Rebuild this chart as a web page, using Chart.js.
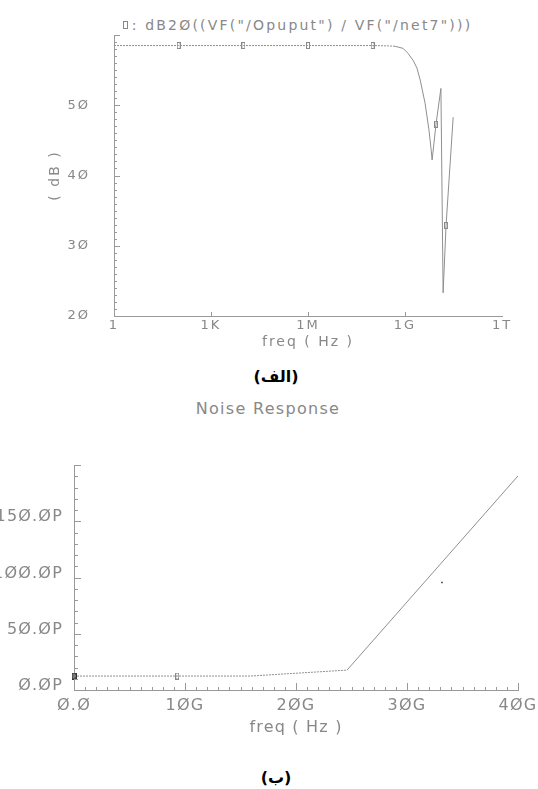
<!DOCTYPE html>
<html><head><meta charset="utf-8">
<script src="https://cdn.jsdelivr.net/npm/chart.js@4.4.0/dist/chart.umd.min.js"></script>
<style>
html,body{margin:0;padding:0;background:#fff;width:538px;height:789px;overflow:hidden;position:relative;font-family:"DejaVu Sans",sans-serif;}
.t{position:absolute;white-space:nowrap;text-align:center;}
.mk{display:inline-block;width:3px;height:6px;border:1px solid #888;margin-right:4px;vertical-align:1px;}
canvas{position:absolute;left:0;}
</style></head><body>
<div class="t" style="left:0;width:595px;top:17px;font-size:14px;line-height:16px;letter-spacing:2.2px;color:#888"><span class="mk"></span>: dB2Ø((VF("/Opuput") / VF("/net7")))</div>
<canvas id="c1" width="538" height="360" style="top:0;width:538px;height:360px"></canvas>
<div class="t" dir="rtl" style="left:0;width:552px;top:367px;font-size:16px;line-height:20px;font-weight:bold;color:#000">(الف)</div>
<div class="t" style="left:0;width:536px;top:400px;font-size:16px;line-height:18px;letter-spacing:1.3px;color:#888">Noise Response</div>
<canvas id="c2" width="538" height="320" style="top:420px;width:538px;height:320px"></canvas>
<div class="t" dir="rtl" style="left:0;width:552px;top:768px;font-size:16px;line-height:20px;font-weight:bold;color:#000">(ب)</div>
<script>
// ---------- data: top chart (gain, dB vs frequency) ----------
const gainFreqHz = [1, 1e2, 1e4, 1e6, 1e8, 3e8, 4.9e8, 8.7e8, 1.23e9, 1.78e9, 2.34e9, 2.95e9, 4.17e9, 5.5e9, 6.46e9, 6.9e9, 9.1e9, 1.29e10, 1.51e10, 1.86e10, 3.09e10];
const gainDb     = [58.5, 58.5, 58.5, 58.5, 58.5, 58.45, 58.4, 58.1, 57.4, 56.4, 55.3, 53.6, 50.3, 46.5, 43.6, 42.2, 47.3, 52.4, 23.3, 32.9, 48.3];
const gainMarkFreqHz = [1e2, 1e4, 1e6, 1e8, 9.1e9, 1.86e10];
const gainMarkDb     = [58.5, 58.5, 58.5, 58.5, 47.3, 32.9];
const gainTickHz     = [1, 1e3, 1e6, 1e9, 1e12];
const gainTickLabels = ['1', '1K', '1M', '1G', '1T'];

// ---------- data: bottom chart (noise response) ----------
const noiseFreqG = [0, 9.3, 15.9, 24.6, 40];
const noiseP     = [12.4, 12.4, 12.4, 17.7, 190.3];
const noiseMarkFreqG = [0, 9.3];
const noiseMarkP     = [12.4, 12.4];
const strayFreqG = [33.15];
const strayP     = [95.6];
const noiseTickG = [0, 10, 20, 30, 40];
const noiseTickLabels = ['Ø.Ø', '1ØG', '2ØG', '3ØG', '4ØG'];
const noiseYTickLabels = {0:'Ø.ØP', 50:'5Ø.ØP', 100:'1ØØ.ØP', 150:'15Ø.ØP', 200:''};

const GRAY = '#888';
Chart.defaults.font.family = '"DejaVu Sans", sans-serif';
Chart.defaults.color = GRAY;

function marker(w, h, stroke, fill) {
  const c = document.createElement('canvas');
  c.width = w; c.height = h;
  const g = c.getContext('2d');
  if (fill) { g.fillStyle = fill; g.fillRect(0, 0, w, h); }
  g.strokeStyle = stroke; g.lineWidth = 1;
  g.strokeRect(0.5, 0.5, w - 1, h - 1);
  return c;
}

const spacing = {
  id: 'spacing',
  beforeUpdate(c, a, o) { c.ctx.letterSpacing = (o.ls || 0) + 'px'; },
  beforeDraw(c, a, o) { c.ctx.letterSpacing = (o.ls || 0) + 'px'; }
};
const insideTicks = {
  id: 'insideTicks',
  afterDraw(chart, args, o) {
    const ctx = chart.ctx, xs = chart.scales.x, ys = chart.scales.y, a = chart.chartArea;
    ctx.save();
    ctx.strokeStyle = o.color; ctx.lineWidth = 1;
    ctx.beginPath();
    for (const t of o.x) {
      const px = Math.round(xs.getPixelForValue(t.v)) + 0.5;
      ctx.moveTo(px, a.bottom); ctx.lineTo(px, a.bottom - t.len);
    }
    for (const t of o.y) {
      const py = Math.round(ys.getPixelForValue(t.v)) + 0.5;
      ctx.moveTo(a.left, py); ctx.lineTo(a.left + t.len, py);
    }
    ctx.stroke();
    ctx.restore();
  }
};

function range(a, b, s) { const r = []; for (let v = a; v <= b + 1e-9; v += s) r.push(+v.toFixed(6)); return r; }

// ---------- top chart ----------
const topYTicks = range(20, 60, 1).map(v => ({ v, len: v % 10 === 0 ? 6 : 3 }));
const topXTicks = [1e3, 1e6, 1e9].map(v => ({ v, len: 4 }));

new Chart(document.getElementById('c1'), {
  type: 'line',
  data: {
    datasets: [
      {
        data: gainFreqHz.map((f, i) => ({ x: f, y: gainDb[i] })),
        borderColor: '#8f8f8f', borderWidth: 1, pointRadius: 0, tension: 0,
        segment: { borderDash: c => c.p1DataIndex <= 6 ? [2, 1] : undefined }
      },
      {
        data: gainMarkFreqHz.map((f, i) => ({ x: f, y: gainMarkDb[i] })),
        showLine: false, pointRadius: 3, pointStyle: marker(4, 7, '#888'), clip: false
      }
    ]
  },
  options: {
    responsive: false, animation: false, devicePixelRatio: 1,
    layout: { padding: { left: 0, right: 36, top: 35, bottom: 0 } },
    plugins: { legend: { display: false }, tooltip: { enabled: false }, title: { display: false },
      spacing: { ls: 2 }, insideTicks: { color: '#999', x: topXTicks, y: topYTicks } },
    scales: {
      x: {
        type: 'logarithmic', min: 1, max: 1e12,
        afterBuildTicks: s => { s.ticks = gainTickHz.map(v => ({ value: v })); },
        ticks: { callback: (v, i) => gainTickLabels[i], padding: 2, maxRotation: 0, autoSkip: false, font: { size: 13 } },
        grid: { display: false, drawTicks: false },
        border: { color: '#999', width: 1 },
        title: { display: true, text: 'freq ( Hz )', font: { size: 14 }, padding: { top: 0, bottom: 9 } },
        afterFit: s => { s.height = 44; s.paddingLeft = 0; s.paddingRight = 0; }
      },
      y: {
        min: 20, max: 60,
        ticks: { stepSize: 10, callback: v => v === 60 ? '' : String(v).replace(/0/g, 'Ø'), padding: 24, font: { size: 13 } },
        grid: { display: false, drawTicks: false },
        border: { color: '#999', width: 1 },
        title: { display: true, text: '( dB )', font: { size: 14 }, padding: { top: 47, bottom: 0 } },
        afterFit: s => { s.width = 114; s.paddingTop = 0; s.paddingBottom = 0; }
      }
    }
  },
  plugins: [spacing, insideTicks]
});

// ---------- bottom chart ----------
const botYTicks = range(0, 200, 10).map(v => ({ v, len: v % 50 === 0 ? 7 : 4 }));
const botXTicks = range(0, 40, 1).map(v => ({ v, len: v % 10 === 0 ? 7 : 3 }));

new Chart(document.getElementById('c2'), {
  type: 'line',
  data: {
    datasets: [
      {
        data: noiseFreqG.map((f, i) => ({ x: f, y: noiseP[i] })),
        borderColor: '#8f8f8f', borderWidth: 1, pointRadius: 0, tension: 0,
        segment: { borderDash: c => c.p1DataIndex <= 3 ? [2, 1] : undefined }
      },
      {
        data: noiseMarkFreqG.map((f, i) => ({ x: f, y: noiseMarkP[i] })),
        showLine: false, pointRadius: 3, clip: false,
        pointStyle: [marker(5, 7, '#333', '#777'), marker(4, 7, '#888')]
      },
      {
        data: strayFreqG.map((f, i) => ({ x: f, y: strayP[i] })),
        showLine: false, pointRadius: 1, pointStyle: 'rect', backgroundColor: '#222', borderColor: '#222', borderWidth: 0
      }
    ]
  },
  options: {
    responsive: false, animation: false, devicePixelRatio: 1,
    layout: { padding: { left: 0, right: 20, top: 45, bottom: 0 } },
    plugins: { legend: { display: false }, tooltip: { enabled: false }, title: { display: false },
      spacing: { ls: 1.2 }, insideTicks: { color: '#999', x: botXTicks, y: botYTicks } },
    scales: {
      x: {
        type: 'linear', min: 0, max: 40,
        afterBuildTicks: s => { s.ticks = noiseTickG.map(v => ({ value: v })); },
        ticks: { callback: (v, i) => noiseTickLabels[i], padding: 6.4, maxRotation: 0, autoSkip: false, font: { size: 16 } },
        grid: { display: false, drawTicks: false },
        border: { color: '#999', width: 1 },
        title: { display: true, text: 'freq ( Hz )', font: { size: 16 }, padding: { top: 0, bottom: 2.5 } },
        afterFit: s => { s.height = 50; s.paddingLeft = 0; s.paddingRight = 0; }
      },
      y: {
        min: 0, max: 200,
        ticks: { stepSize: 50, callback: v => noiseYTickLabels[v], padding: 11, labelOffset: -4, font: { size: 16 } },
        grid: { display: false, drawTicks: false },
        border: { color: '#999', width: 1 },
        afterFit: s => { s.width = 74; s.paddingTop = 0; s.paddingBottom = 0; }
      }
    }
  },
  plugins: [spacing, insideTicks]
});
</script>
</body></html>
